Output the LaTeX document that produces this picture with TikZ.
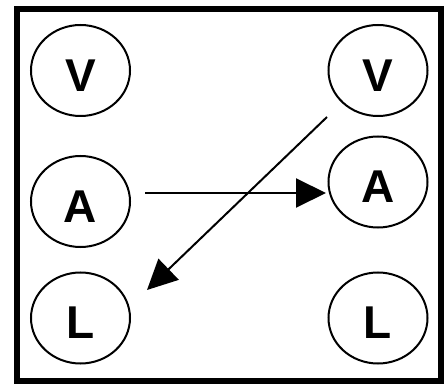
\documentclass[tikz,border=0pt]{standalone}
\usepackage{fontspec}
\setmainfont{Liberation Sans}
\usetikzlibrary{shapes.geometric,arrows.meta}
\tikzset{
  varnode/.style={ellipse, draw, line width=2pt, minimum width=99pt, minimum height=91pt,
    inner sep=0pt, text height=42pt, text depth=0pt,
    font=\fontsize{46}{46}\selectfont\bfseries},
  arr/.style={line width=2pt, -{Triangle[length=30pt,width=29pt]}}
}
\begin{document}
\begin{tikzpicture}[x=1pt,y=-1pt]
\useasboundingbox (0,0) rectangle (448,385);
\draw[line width=6pt] (17,9) rectangle (441,381);
\node[varnode] (lV) at (80.5,70.5) {V};
\node[varnode] (rV) at (378,70.5) {V};
\node[varnode] (lA) at (80.5,201.5) {A};
\node[varnode] (rA) at (378,182) {A};
\node[varnode] (lL) at (80.5,318) {L};
\node[varnode] (rL) at (378,318) {L};
\coordinate (h1) at (145,193);
\draw[arr, shorten >=1.5pt] (h1) -- (h1 -| rA.west);
\coordinate (d1) at (327,117);
\coordinate (d2) at (147,290);
\draw[arr] (d1) -- (d2);
\end{tikzpicture}
\end{document}
